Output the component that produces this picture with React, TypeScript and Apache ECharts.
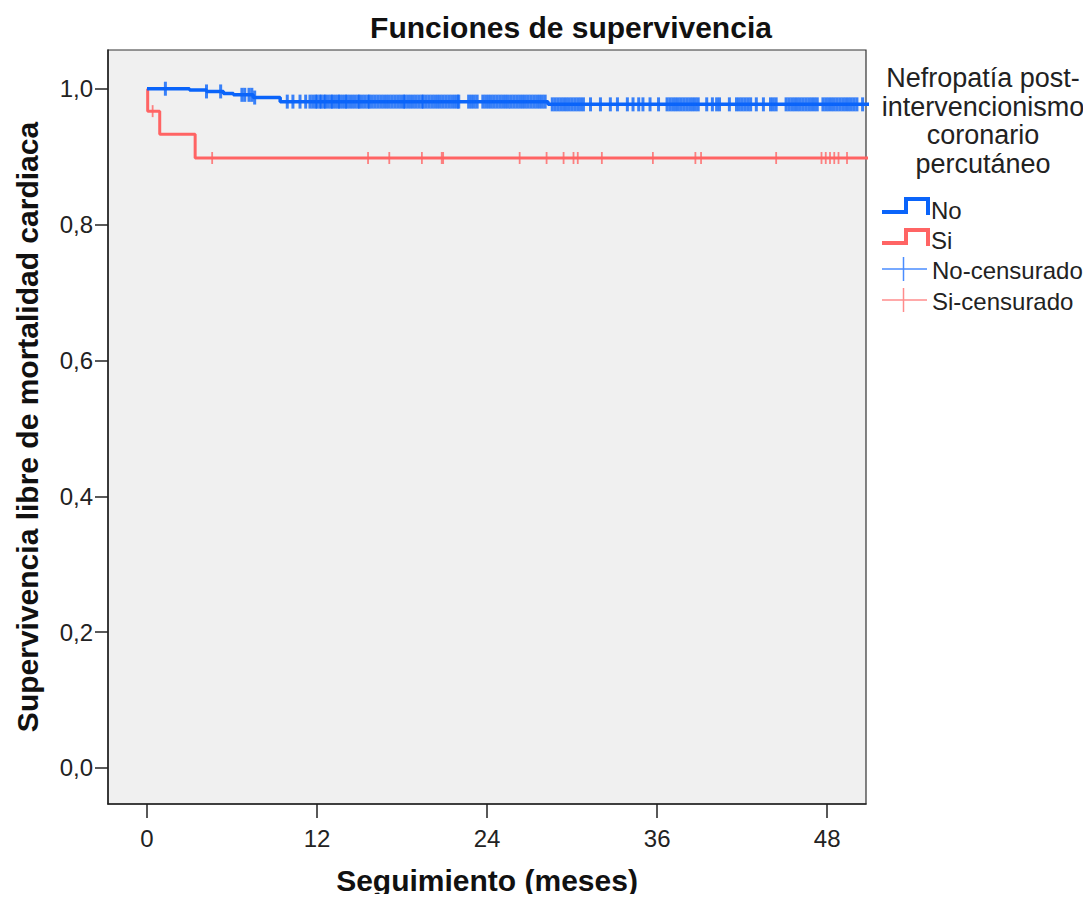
import React, { useEffect, useRef } from "react";
import * as echarts from "echarts";

const xTickValues = [0, 12, 24, 36, 48];
const yTickValues = [0, 0.2, 0.4, 0.6, 0.8, 1.0];

// Kaplan-Meier step points: time (months) and survival after that time
const noEventTimes = [0, 3.0, 4.2, 5.4, 6.1, 7.5, 9.4, 28.3, 51];
const noSurvival = [1, 0.998, 0.996, 0.993, 0.991, 0.987, 0.981, 0.977, 0.977];
const siEventTimes = [0, 0.05, 0.9, 3.4, 51];
const siSurvival = [1, 0.967, 0.933, 0.898, 0.898];

// censored observation times (months)
const noCensored = [
  1.3, 4.2, 5.2, 6.7, 6.9, 7.2, 7.4, 7.6, 9.9, 10.3, 10.8, 11.2, 11.5,
  11.7, 11.9, 12.0, 12.2, 12.3, 12.5, 12.6, 12.8, 13.0, 13.1, 13.3, 13.5, 13.6, 13.8,
  14.0, 14.1, 14.3, 14.5, 14.7, 14.9, 15.0, 15.2, 15.4, 15.6, 15.7, 15.9, 16.1, 16.3,
  16.5, 16.7, 16.9, 17.1, 17.3, 17.5, 17.7, 17.9, 18.1, 18.2, 18.4, 18.6, 18.8, 19.0,
  19.2, 19.4, 19.5, 19.7, 19.9, 20.1, 20.3, 20.5, 20.7, 20.9, 21.1, 21.3, 21.5, 21.7,
  21.9, 22.0, 22.7, 22.9, 23.1, 23.3, 23.7, 23.9, 24.1, 24.3, 24.5, 24.7, 24.9, 25.1,
  25.3, 25.5, 25.7, 25.9, 26.1, 26.3, 26.5, 26.7, 26.9, 27.1, 27.3, 27.5, 27.7, 27.9,
  28.1, 28.6, 28.8, 29.0, 29.2, 29.4, 29.6, 29.8, 30.0, 30.2, 30.4, 30.6, 30.8, 31.3,
  32.0, 32.7, 33.2, 33.9, 34.3, 34.7, 35.0, 35.5, 36.1, 36.7, 36.9, 37.1, 37.3, 37.5,
  37.7, 37.9, 38.1, 38.3, 38.5, 38.7, 38.9, 39.5, 39.9, 40.2, 40.4, 41.1, 41.6, 41.8,
  42.0, 42.2, 42.4, 42.6, 43.0, 43.5, 44.0, 44.2, 44.4, 45.1, 45.3, 45.5, 45.7, 45.9,
  46.1, 46.3, 46.5, 46.7, 46.9, 47.1, 47.3, 47.7, 47.9, 48.1, 48.3, 48.5, 48.7, 48.9,
  49.1, 49.3, 49.5, 49.7, 49.9, 50.1, 50.5,
];
const siCensored = [
  0.4, 4.6, 15.6, 17.1, 19.4, 20.8, 20.9, 26.3, 28.2, 29.4, 30.1, 30.4, 32.1, 35.7,
  38.7, 39.1, 44.4, 47.6, 47.9, 48.2, 48.5, 48.8, 49.4,
];

const legendTitleLines = ["Nefropatía post-", "intervencionismo", "coronario", "percutáneo"];

const BLUE = "#0A64FA";
const RED = "#FF6464";
const BLUE_LIGHT = "#4A8CFF";
const RED_LIGHT = "#FF8C8C";

function survivalAt(times: number[], surv: number[], t: number) {
  let s = surv[0];
  for (let i = 0; i < times.length; i++) {
    if (times[i] <= t) s = surv[i];
  }
  return s;
}

export default function App() {
  const ref = useRef<HTMLDivElement>(null);
  useEffect(() => {
    if (!ref.current) return;
    const chart = echarts.init(ref.current, undefined, { renderer: "svg" });
    const font = "'Liberation Sans', Arial, sans-serif";
    const option: any = {
      animation: false,
      backgroundColor: "#ffffff",
      grid: {
        left: 108,
        right: 225,
        top: 50,
        bottom: 98,
        outerBoundsMode: "none",
        containLabel: false,
        show: true,
        backgroundColor: "#F0F0F0",
        borderColor: "#333333",
        borderWidth: 1.2,
      },
      xAxis: {
        type: "value",
        min: -2.75,
        max: 50.74,
        name: "Seguimiento (meses)",
        nameLocation: "middle",
        nameMoveOverlap: false,
        nameGap: 61,
        nameTextStyle: { fontFamily: font, fontWeight: "bold", fontSize: 30, color: "#111" },
        axisLine: { show: true, onZero: false, lineStyle: { color: "#222", width: 1.5 } },
        axisTick: { show: true, customValues: xTickValues, length: 14, lineStyle: { color: "#222", width: 1.5 } },
        axisLabel: {
          customValues: xTickValues,
          margin: 22,
          fontFamily: font,
          fontSize: 24,
          color: "#222",
        },
        splitLine: { show: false },
      },
      yAxis: {
        type: "value",
        min: -0.053,
        max: 1.057,
        name: "Supervivencia libre de mortalidad cardiaca",
        nameLocation: "middle",
        nameMoveOverlap: false,
        nameRotate: 90,
        nameGap: 66,
        nameTextStyle: { fontFamily: font, fontWeight: "bold", fontSize: 30, color: "#111" },
        axisLine: { show: true, onZero: false, lineStyle: { color: "#222", width: 1.5 } },
        axisTick: { show: true, customValues: yTickValues, length: 13, lineStyle: { color: "#222", width: 1.5 } },
        axisLabel: {
          customValues: yTickValues,
          margin: 15,
          fontFamily: font,
          fontSize: 24,
          color: "#222",
          formatter: (v: number) => v.toFixed(1).replace(".", ","),
        },
        splitLine: { show: false },
      },
      series: [
        {
          name: "Si",
          type: "line",
          step: "end",
          showSymbol: false,
          symbol: "none",
          lineStyle: { color: RED, width: 3 },
          data: siEventTimes.map((t, i) => [t, siSurvival[i]]),
          z: 2,
        },
        {
          name: "No",
          type: "line",
          step: "end",
          showSymbol: false,
          symbol: "none",
          lineStyle: { color: BLUE, width: 3.5 },
          data: noEventTimes.map((t, i) => [t, noSurvival[i]]),
          z: 3,
        },
        {
          name: "Si-censurado",
          type: "scatter",
          symbol: "rect",
          symbolSize: [1.8, 12],
          itemStyle: { color: RED },
          data: siCensored.map((t) => [t, survivalAt(siEventTimes, siSurvival, t)]),
          z: 4,
        },
        {
          name: "No-censurado",
          type: "scatter",
          symbol: "rect",
          symbolSize: [3, 14],
          itemStyle: { color: BLUE },
          data: noCensored.map((t) => [t, survivalAt(noEventTimes, noSurvival, t)]),
          z: 5,
        },
      ],
    };
    option.graphic = [
      {
        type: "text",
        x: 571,
        y: 27,
        style: {
          text: "Funciones de supervivencia",
          fontFamily: font,
          fontWeight: "bold",
          fontSize: 30,
          fill: "#111",
          textAlign: "center",
          textVerticalAlign: "middle",
        },
      },
      ...legendTitleLines.map((t, i) => ({
        type: "text",
        x: 983,
        y: 78 + i * 28.7,
        style: {
          text: t,
          fontFamily: font,
          fontSize: 27,
          fill: "#222",
          textAlign: "center",
          textVerticalAlign: "middle",
        },
      })),
      {
        type: "polyline",
        shape: { points: [[882, 212], [906, 212], [906, 199], [928, 199], [928, 215]] },
        style: { stroke: BLUE, lineWidth: 4, fill: "none" },
      },
      {
        type: "text",
        x: 931,
        y: 210,
        style: { text: "No", fontFamily: font, fontSize: 24, fill: "#222", textVerticalAlign: "middle" },
      },
      {
        type: "polyline",
        shape: { points: [[882, 243], [906, 243], [906, 230], [928, 230], [928, 246]] },
        style: { stroke: RED, lineWidth: 4, fill: "none" },
      },
      {
        type: "text",
        x: 931,
        y: 240,
        style: { text: "Si", fontFamily: font, fontSize: 24, fill: "#222", textVerticalAlign: "middle" },
      },
      {
        type: "line",
        shape: { x1: 882, y1: 269, x2: 927, y2: 269 },
        style: { stroke: BLUE_LIGHT, lineWidth: 1.5 },
      },
      {
        type: "line",
        shape: { x1: 903.5, y1: 257, x2: 903.5, y2: 281 },
        style: { stroke: BLUE_LIGHT, lineWidth: 1.5 },
      },
      {
        type: "text",
        x: 932,
        y: 270,
        style: { text: "No-censurado", fontFamily: font, fontSize: 24, fill: "#222", textVerticalAlign: "middle" },
      },
      {
        type: "line",
        shape: { x1: 882, y1: 300, x2: 927, y2: 300 },
        style: { stroke: RED_LIGHT, lineWidth: 1.5 },
      },
      {
        type: "line",
        shape: { x1: 903.5, y1: 288, x2: 903.5, y2: 312 },
        style: { stroke: RED_LIGHT, lineWidth: 1.5 },
      },
      {
        type: "text",
        x: 932,
        y: 301,
        style: { text: "Si-censurado", fontFamily: font, fontSize: 24, fill: "#222", textVerticalAlign: "middle" },
      },
    ];
    chart.setOption(option);
    return () => chart.dispose();
  }, []);
  return <div ref={ref} style={{ width: 1091, height: 902, margin: -8 }} />;
}
